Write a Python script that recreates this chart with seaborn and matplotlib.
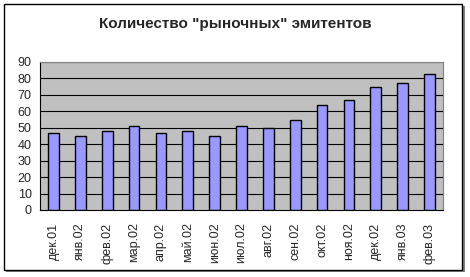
import matplotlib
matplotlib.use("Agg")
import matplotlib.pyplot as plt
import seaborn as sns
import pandas as pd
import numpy as np
from matplotlib.patches import Rectangle

categories = ["дек.01", "янв.02", "фев.02", "мар.02", "апр.02", "май.02", "июн.02",
              "июл.02", "авг.02", "сен.02", "окт.02", "ноя.02", "дек.02", "янв.03", "фев.03"]
values = [47, 45, 48, 51, 47, 48, 45, 51, 50, 55, 64, 67, 75, 77, 83]
yticks = [0, 10, 20, 30, 40, 50, 60, 70, 80, 90]
title = "Количество \"рыночных\" эмитентов"

sns.set_theme(style="white")
plt.rcParams['font.family'] = ['Liberation Sans', 'DejaVu Sans']

df = pd.DataFrame({"month": categories, "value": values})

fig = plt.figure(figsize=(4.7, 2.77), dpi=100)
# outer frame with shadow
fig.patches.append(Rectangle((6/470, 1 - 272/277), 459/470, 266/277, transform=fig.transFigure,
                             facecolor="#808080", edgecolor="none", zorder=-3))
fig.patches.append(Rectangle((4/470, 1 - 270/277), 458/470, 266/277, transform=fig.transFigure,
                             facecolor="white", edgecolor="black", linewidth=1.0, zorder=-2))

ax = fig.add_axes([40/470, 1 - 210/277, 403/470, 148/277])
ax.set_facecolor("#C0C0C0")
sns.barplot(data=df, x="month", y="value", ax=ax, color="#9999FF", width=0.4,
            edgecolor="black", linewidth=1.0, saturation=1, zorder=3)
ax.set_ylim(0, 90)
ax.set_xlim(-0.5, len(categories) - 0.5)
ax.set_yticks(yticks)
ax.set_yticklabels([str(t) for t in yticks], fontsize=9)
for t in yticks[1:]:
    ax.axhline(t, color="#000000", linewidth=0.8, zorder=1)
ax.set_xticks(range(len(categories)))
ax.set_xticklabels(categories, rotation=90, fontsize=9)
ax.tick_params(axis="x", length=0, pad=9)
ax.set_xticks(np.arange(-0.5, len(categories), 1), minor=True)
ax.tick_params(axis="x", which="minor", length=4, width=0.8, color="black", direction="out")
ax.tick_params(axis="y", length=4, width=0.8, color="black", direction="out", pad=2)
ax.set_xlabel("")
ax.set_ylabel("")
for s in ["top", "right"]:
    ax.spines[s].set_color("#808080")
    ax.spines[s].set_linewidth(0.8)
for s in ["left", "bottom"]:
    ax.spines[s].set_color("black")
    ax.spines[s].set_linewidth(0.8)

fig.text(0.5, 1 - 24/277, title, ha="center", va="center", fontsize=11, fontweight="bold")

fig.savefig("out.png", dpi=100)
